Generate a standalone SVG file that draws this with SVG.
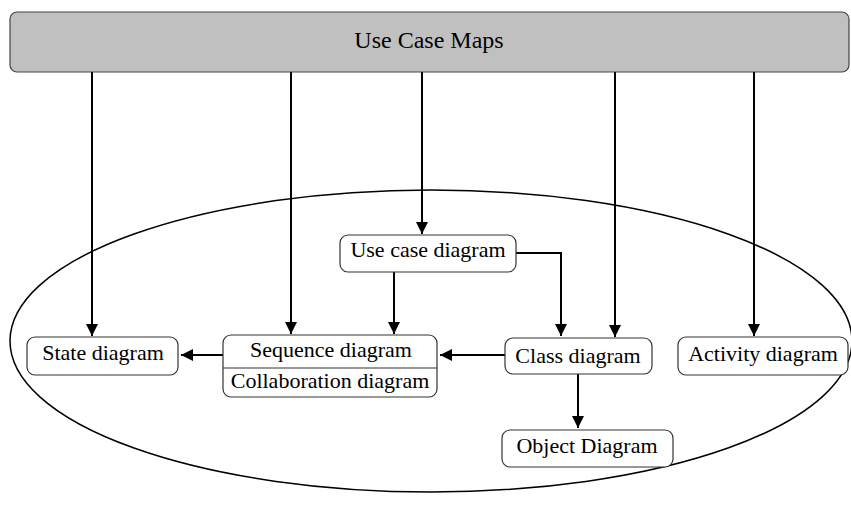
<svg xmlns="http://www.w3.org/2000/svg" width="851" height="521" viewBox="0 0 851 521">
<defs>
<marker id="ah" markerWidth="12" markerHeight="14" refX="12" refY="7" orient="auto" markerUnits="userSpaceOnUse">
<path d="M0,1 L12,7 L0,13 Z" fill="#000"/>
</marker>
<style>
.node{fill:#fff;stroke:#333;stroke-width:1.2}
.t{font-family:"Liberation Serif","Times New Roman",serif;font-size:22px;fill:#000;text-anchor:middle}
.c{fill:none;stroke:#000;stroke-width:2;marker-end:url(#ah)}
</style>
</defs>
<rect width="851" height="521" fill="#fff"/>
<g id="scope">
<ellipse cx="431" cy="341" rx="421" ry="151" fill="none" stroke="#000" stroke-width="1.5"/>
</g>
<g id="ucm">
<rect x="10" y="12" width="839" height="60" rx="7" fill="#c0c0c0" stroke="#444" stroke-width="1.2"/>
<text class="t" x="429" y="48" style="font-size:24px">Use Case Maps</text>
</g>
<g id="connectors">
<line class="c" x1="92" y1="72" x2="92" y2="336"/>
<line class="c" x1="291" y1="72" x2="291" y2="334"/>
<line class="c" x1="422" y1="72" x2="422" y2="234"/>
<line class="c" x1="615" y1="72" x2="615" y2="337"/>
<line class="c" x1="754" y1="72" x2="754" y2="336"/>
<line class="c" x1="394" y1="272" x2="394" y2="334"/>
<polyline class="c" points="516,253 561,253 561,336"/>
<line class="c" x1="505" y1="355" x2="440" y2="355"/>
<line class="c" x1="223" y1="355" x2="181" y2="355"/>
<line class="c" x1="578" y1="374" x2="578" y2="428"/>
</g>
<g id="usecase">
<rect class="node" x="340" y="235" width="176" height="37" rx="8"/>
<text class="t" x="428" y="257">Use case diagram</text>
</g>
<g id="state">
<rect class="node" x="27" y="337" width="151" height="38" rx="8"/>
<text class="t" x="103" y="360">State diagram</text>
</g>
<g id="sequence">
<rect class="node" x="223" y="335" width="214" height="62" rx="8"/>
<line x1="223" y1="368" x2="437" y2="368" stroke="#333" stroke-width="1.2"/>
<text class="t" x="331" y="357">Sequence diagram</text>
<text class="t" x="330" y="388">Collaboration diagram</text>
</g>
<g id="class">
<rect class="node" x="505" y="338" width="147" height="36" rx="8"/>
<text class="t" x="578" y="363">Class diagram</text>
</g>
<g id="activity">
<rect class="node" x="678" y="337" width="170" height="38" rx="8"/>
<text class="t" x="763" y="361">Activity diagram</text>
</g>
<g id="object">
<rect class="node" x="502" y="430" width="171" height="37" rx="8"/>
<text class="t" x="587" y="453">Object Diagram</text>
</g>
</svg>
